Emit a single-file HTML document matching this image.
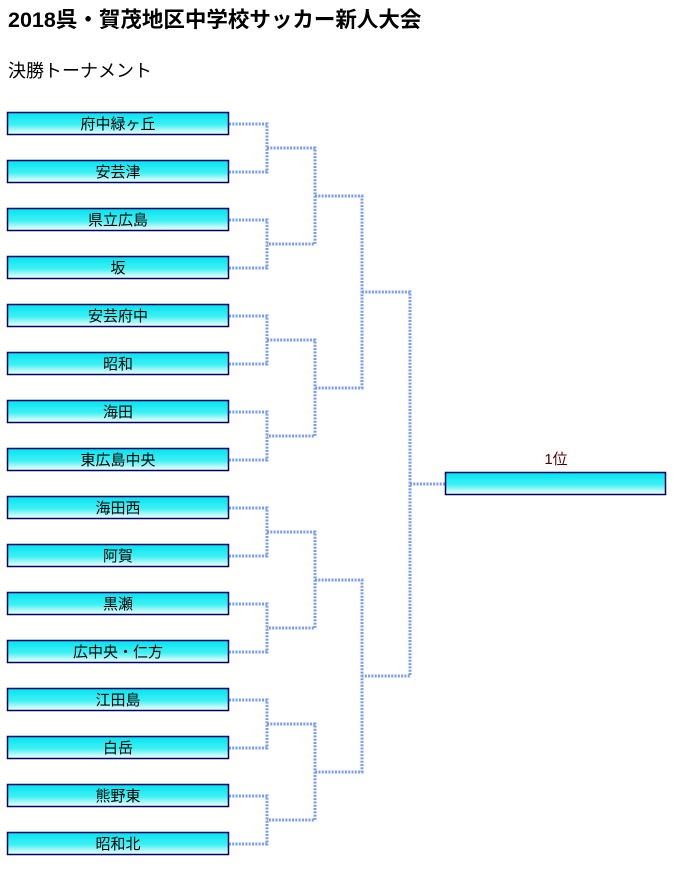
<!DOCTYPE html>
<html><head><meta charset="utf-8"><style>
body{margin:0;background:#fff;width:699px;height:885px;overflow:hidden}
svg{display:block}
</style></head><body>
<svg width="699" height="885" xmlns="http://www.w3.org/2000/svg" font-family="'Liberation Sans','Noto Sans CJK JP',sans-serif">
<defs><linearGradient id="g" x1="0" y1="0" x2="0" y2="1"><stop offset="0" stop-color="#00e4ee"/><stop offset="0.55" stop-color="#40f0f4"/><stop offset="1" stop-color="#ffffff"/></linearGradient></defs>
<text x="8" y="27" font-size="21.5" font-weight="bold" fill="#000">2018呉・賀茂地区中学校サッカー新人大会</text>
<text x="8" y="77" font-size="18" fill="#000">決勝トーナメント</text>
<g stroke="#7a9cf2" stroke-width="3" stroke-dasharray="2 1.3" fill="none">
<path d="M229 124H267V172H229M229 220H267V268H229M229 316H267V364H229M229 412H267V460H229M229 508H267V556H229M229 604H267V652H229M229 700H267V748H229M229 796H267V844H229"/>
<path d="M267 148H315V244H267M267 340H315V436H267M267 532H315V628H267M267 724H315V820H267"/>
<path d="M315 196H362V388H315M315 580H362V772H315"/>
<path d="M362 292H410V676H362M410 484H446"/>
</g>
<g stroke="#000066" stroke-width="1.5" fill="url(#g)">
<rect x="7.5" y="112.5" width="221" height="22"/><rect x="7.5" y="160.5" width="221" height="22"/>
<rect x="7.5" y="208.5" width="221" height="22"/><rect x="7.5" y="256.5" width="221" height="22"/>
<rect x="7.5" y="304.5" width="221" height="22"/><rect x="7.5" y="352.5" width="221" height="22"/>
<rect x="7.5" y="400.5" width="221" height="22"/><rect x="7.5" y="448.5" width="221" height="22"/>
<rect x="7.5" y="496.5" width="221" height="22"/><rect x="7.5" y="544.5" width="221" height="22"/>
<rect x="7.5" y="592.5" width="221" height="22"/><rect x="7.5" y="640.5" width="221" height="22"/>
<rect x="7.5" y="688.5" width="221" height="22"/><rect x="7.5" y="736.5" width="221" height="22"/>
<rect x="7.5" y="784.5" width="221" height="22"/><rect x="7.5" y="832.5" width="221" height="22"/>
<rect x="445.5" y="472.5" width="220" height="22"/>
</g>
<g font-size="15" fill="#000" text-anchor="middle">
<text x="118" y="129">府中緑ヶ丘</text><text x="118" y="177">安芸津</text>
<text x="118" y="225">県立広島</text><text x="118" y="273">坂</text>
<text x="118" y="321">安芸府中</text><text x="118" y="369">昭和</text>
<text x="118" y="417">海田</text><text x="118" y="465">東広島中央</text>
<text x="118" y="513">海田西</text><text x="118" y="561">阿賀</text>
<text x="118" y="609">黒瀬</text><text x="118" y="657">広中央・仁方</text>
<text x="118" y="705">江田島</text><text x="118" y="753">白岳</text>
<text x="118" y="801">熊野東</text><text x="118" y="849">昭和北</text>
<text x="556" y="464" fill="#550000">1位</text>
</g>
</svg>
</body></html>
